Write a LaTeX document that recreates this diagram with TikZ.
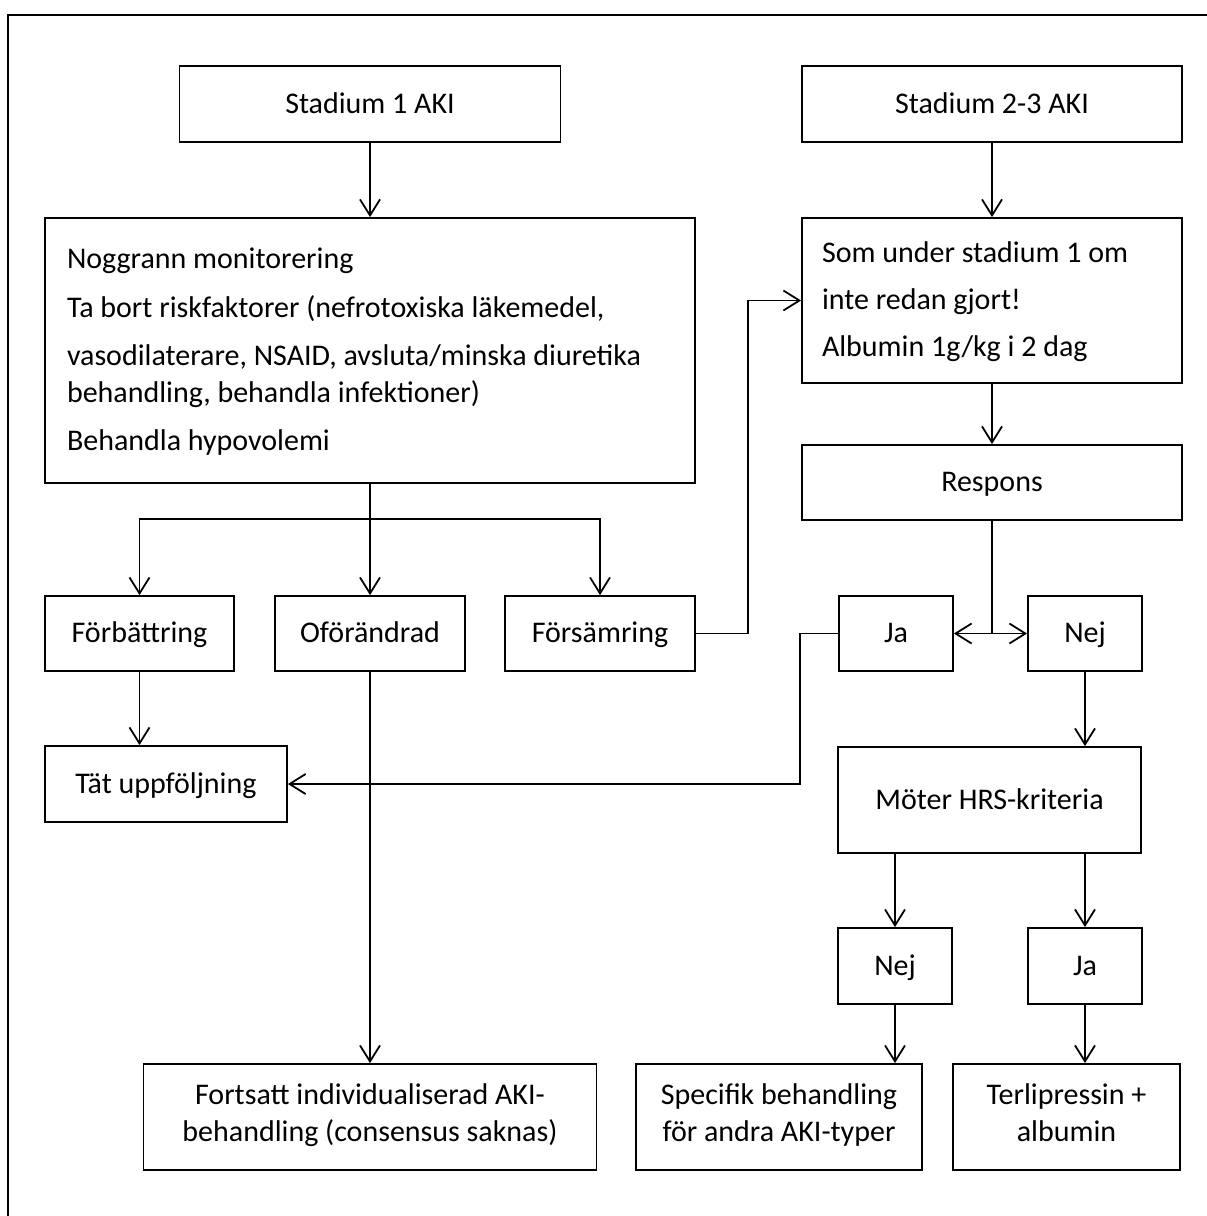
\documentclass[tikz,border=0pt]{standalone}
\usepackage{fontspec}
\setmainfont{Carlito}
\usetikzlibrary{arrows.meta}

\begin{document}
\begin{tikzpicture}[x=1pt,y=-1pt,line width=1.8pt,
    >={Straight Barb[length=16pt,width=20pt]},
    box/.style={draw,rectangle,inner sep=0pt,align=center,
      font=\fontsize{30}{36.5}\selectfont,
      execute at begin node={\rule{0pt}{27.5pt}},
      execute at end node={\rule[-9pt]{0pt}{9pt}}},
    txtbox/.style={box,align=flush left,text width=#1}]
  \path[use as bounding box] (0,0) rectangle (1207,1216);
  \path[draw] (8,1216) -- (8,15) -- (1207,15);
  % left column
  \node[box,minimum width=381pt,minimum height=76pt] at (370,104) (st1) {Stadium 1 AKI};
  \node[txtbox=606pt,minimum width=650pt,minimum height=265pt] at (370,350.5) (mon)
    {Noggrann monitorering\\[12pt]
     Ta bort riskfaktorer (nefrotoxiska läkemedel,\\[12pt]
     vasodilaterare, NSAID, avsluta/minska diuretika\\
     behandling, behandla infektioner)\\[12pt]
     Behandla hypovolemi};
  \node[box,minimum width=189pt,minimum height=75pt] at (139.5,633.5) (forb) {Förbättring};
  \node[box,minimum width=190pt,minimum height=75pt] at (370,633.5) (ofor) {Oförändrad};
  \node[box,minimum width=190pt,minimum height=75pt] at (600,633.5) (fors) {Försämring};
  \node[box,minimum width=242pt,minimum height=76pt] at (166,784) (tat) {Tät uppföljning};
  \node[box,minimum width=453pt,minimum height=106pt] at (370,1117) (fort)
    {Fortsatt individualiserad AKI-\\behandling (consensus saknas)};
  % right column
  \node[box,minimum width=380pt,minimum height=76pt] at (992,104) (st23) {Stadium 2-3 AKI};
  \node[txtbox=340pt,minimum width=380pt,minimum height=165pt] at (992,300.5) (som)
    {Som under stadium 1 om\\[10pt]
     inte redan gjort!\\[11pt]
     Albumin 1g/kg i 2 dag};
  \node[box,minimum width=380pt,minimum height=75pt] at (992,482.5) (resp) {Respons};
  \node[box,minimum width=114pt,minimum height=75pt] at (896,633.5) (ja1) {Ja};
  \node[box,minimum width=114pt,minimum height=75pt] at (1085,633.5) (nej1) {Nej};
  \node[box,minimum width=303pt,minimum height=106pt] at (989.5,800) (hrs) {Möter HRS-kriteria};
  \node[box,minimum width=114pt,minimum height=76pt] at (895,966) (nej2) {Nej};
  \node[box,minimum width=114pt,minimum height=76pt] at (1085,966) (ja2) {Ja};
  \node[box,minimum width=286pt,minimum height=106pt] at (779,1117) (spc)
    {Specifik behandling\\för andra AKI-typer};
  \node[box,minimum width=227pt,minimum height=106pt] at (1066.5,1117) (ter)
    {Terlipressin +\\albumin};
  \coordinate (split) at (370,519);
  \coordinate (up) at (748,300.5);
  \coordinate (back) at (800,784);
  % arrows
  \path[draw,->] (st1) -- (mon);
  \path[draw,->] (mon) -- (ofor);
  \path[draw,->] (split) -| (forb);
  \path[draw,->] (split) -| (fors);
  \path[draw,->] (forb) -- (forb |- tat.north);
  \path[draw,->] (ofor) -- (fort);
  \path[draw,->] (fors) -| (up) -- (som);
  \path[draw,->] (st23) -- (som);
  \path[draw,->] (som) -- (resp);
  \path[draw] (resp) -- (resp |- ja1);
  \path[draw,<->] (ja1) -- (nej1);
  \path[draw,->] (ja1.west) -| (back) -- (tat);
  \path[draw,->] (nej1) -- (nej1 |- hrs.north);
  \path[draw,->] (nej2 |- hrs.south) -- (nej2);
  \path[draw,->] (ja2 |- hrs.south) -- (ja2);
  \path[draw,->] (nej2) -- (nej2 |- spc.north);
  \path[draw,->] (ja2) -- (ja2 |- ter.north);
\end{tikzpicture}
\end{document}
